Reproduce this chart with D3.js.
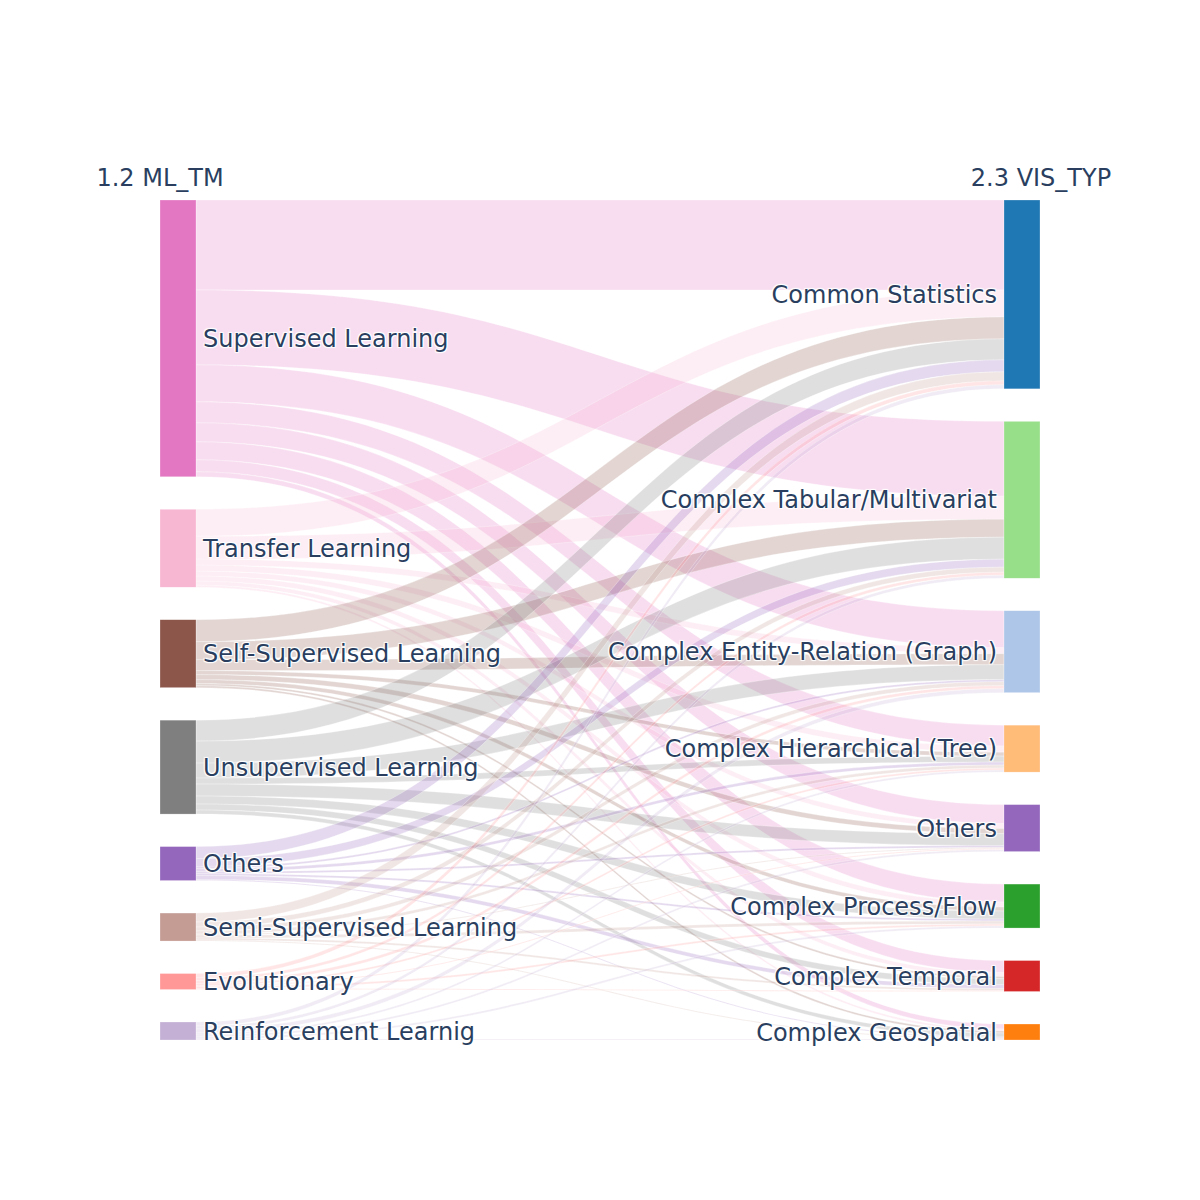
<!DOCTYPE html>
<html>
<head>
<meta charset="utf-8">
<script src="https://cdn.jsdelivr.net/npm/d3@7"></script>
<style>
  body { margin: 0; background: #fff; }
  .lbl { font-family: "DejaVu Sans", Verdana, sans-serif; font-size: 24px; fill: #2a3f5f;
         text-shadow: 1px 1px 1px #fff, 1px -1px 1px #fff, -1px 1px 1px #fff, -1px -1px 1px #fff; }
</style>
</head>
<body>
<svg id="chart" width="1200" height="1200"></svg>
<script>

// left column (1.2 ML_TM)
var sourceNames = ['Supervised Learning','Transfer Learning','Self-Supervised Learning','Unsupervised Learning',
                   'Others','Semi-Supervised Learning','Evolutionary','Reinforcement Learnig'];
var sourceColors = ['#e377c2','#f7b6d2','#8c564b','#7f7f7f','#9467bd','#c49c94','#ff9896','#c5b0d5'];

// right column (2.3 VIS_TYP)
var targetNames = ['Common Statistics','Complex Tabular/Multivariat','Complex Entity-Relation (Graph)',
                   'Complex Hierarchical (Tree)','Others','Complex Process/Flow','Complex Temporal','Complex Geospatial'];
var targetColors = ['#1f77b4','#98df8a','#aec7e8','#ffbb78','#9467bd','#2ca02c','#d62728','#ff7f0e'];

// flows per source, one value per target (same order as targetNames)
var supervisedFlows     = [90, 75, 37, 21, 19, 18, 12, 5];
var transferFlows       = [27, 23,  6,  6,  5,  5,  4, 2];
var selfSupFlows        = [22, 18, 11,  4,  5,  4,  2, 2];
var unsupervisedFlows   = [21, 22, 15,  6, 12,  8,  6, 4];
var othersFlows         = [12,  8,  2,  3,  2,  2,  4, 1];
var semiSupFlows        = [ 9,  5,  4,  3,  1,  3,  2, 1];
var evolutionaryFlows   = [ 4,  3,  3,  2,  1,  2,  1, 0];
var reinforcementFlows  = [ 4,  3,  4,  2,  2,  2,  0, 1];

var flowRows = [supervisedFlows, transferFlows, selfSupFlows, unsupervisedFlows,
                othersFlows, semiSupFlows, evolutionaryFlows, reinforcementFlows];

var leftTitle = '1.2 ML_TM', rightTitle = '2.3 VIS_TYP';

var top_y = 200, bottom_y = 1040, node_w = 36, pad = 32.5;
var left_x = 160, right_x = 1004;

var svg = d3.select('#chart');

// totals
var srcTot = flowRows.map(function (r) { return d3.sum(r); });
var tgtTot = targetNames.map(function (t, j) { return d3.sum(flowRows, function (r) { return r[j]; }); });
var maxTot = Math.max(d3.sum(srcTot), d3.sum(tgtTot));
var nmax = Math.max(sourceNames.length, targetNames.length);
var ky = d3.scaleLinear().domain([0, maxTot]).range([0, (bottom_y - top_y) - pad * (nmax - 1)]);

function stack(tots) {
	var y = top_y, out = [];
	tots.forEach(function (v) {
		out.push({y0: y, y1: y + ky(v)});
		y += ky(v) + pad;
	});
	return out;
}
var srcNodes = stack(srcTot);
var tgtNodes = stack(tgtTot);

// link positions: at source ordered by target, at target ordered by source
var links = [];
var srcOff = srcNodes.map(function (n) { return n.y0; });
var tgtOff = tgtNodes.map(function (n) { return n.y0; });
for (var i = 0; i < flowRows.length; i++) {
	for (var j = 0; j < targetNames.length; j++) {
		var v = flowRows[i][j];
		if (!v) continue;
		links.push({s: i, t: j, v: v, sy: srcOff[i], ty: 0});
		srcOff[i] += ky(v);
	}
}
for (var j = 0; j < targetNames.length; j++) {
	links.filter(function (l) { return l.t == j; }).forEach(function (l) {
		l.ty = tgtOff[j];
		tgtOff[j] += ky(l.v);
	});
}

var x0 = left_x + node_w, x1 = right_x;
var xi = d3.interpolateNumber(x0, x1);
var c = 0.5;
function linkPath(l) {
	var h = ky(l.v);
	var a = l.sy, b = l.ty;
	return 'M' + x0 + ',' + a +
		'C' + xi(c) + ',' + a + ' ' + xi(1 - c) + ',' + b + ' ' + x1 + ',' + b +
		'L' + x1 + ',' + (b + h) +
		'C' + xi(1 - c) + ',' + (b + h) + ' ' + xi(c) + ',' + (a + h) + ' ' + x0 + ',' + (a + h) + 'Z';
}

svg.append('g').selectAll('path').data(links).enter().append('path')
	.attr('d', linkPath)
	.attr('fill', function (l) { return sourceColors[l.s]; })
	.attr('fill-opacity', 0.25)
	.attr('stroke', '#fff')
	.attr('stroke-opacity', 0.6)
	.attr('stroke-width', 0.5);

// nodes
function drawNodes(nodes, x, colors) {
	svg.append('g').selectAll('rect').data(nodes).enter().append('rect')
		.attr('x', x).attr('y', function (d) { return d.y0; })
		.attr('width', node_w).attr('height', function (d) { return Math.max(1, d.y1 - d.y0); })
		.attr('fill', function (d, i) { return colors[i]; })
		.attr('stroke', 'rgba(255,255,255,0.5)').attr('stroke-width', 0.5);
}
drawNodes(srcNodes, left_x, sourceColors);
drawNodes(tgtNodes, right_x, targetColors);

// labels
svg.append('g').selectAll('text').data(srcNodes).enter().append('text')
	.attr('class', 'lbl')
	.attr('x', left_x + node_w + 7)
	.attr('y', function (d) { return (d.y0 + d.y1) / 2; })
	.attr('dy', '0.36em')
	.text(function (d, i) { return sourceNames[i]; });

svg.append('g').selectAll('text').data(tgtNodes).enter().append('text')
	.attr('class', 'lbl')
	.attr('x', right_x - 7)
	.attr('y', function (d) { return (d.y0 + d.y1) / 2; })
	.attr('dy', '0.36em')
	.attr('text-anchor', 'end')
	.text(function (d, i) { return targetNames[i]; });

// column titles
svg.append('text').attr('class', 'lbl').attr('x', left_x).attr('y', 186)
	.attr('text-anchor', 'middle').text(leftTitle);
svg.append('text').attr('class', 'lbl').attr('x', right_x + node_w + 1).attr('y', 186)
	.attr('text-anchor', 'middle').text(rightTitle);

</script>
</body>
</html>
